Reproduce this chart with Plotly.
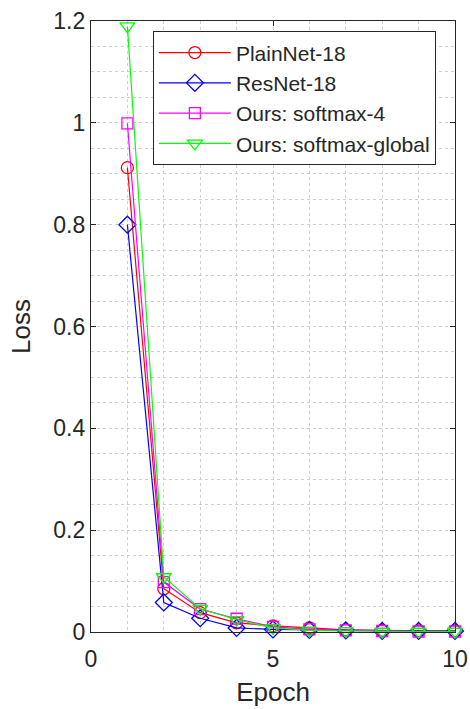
import plotly.graph_objects as go

# Training loss per epoch for each network
epochs = [1, 2, 3, 4, 5, 6, 7, 8, 9, 10]
plainnet_18 = [0.912, 0.085, 0.038, 0.018, 0.012, 0.008, 0.004, 0.003, 0.002, 0.002]
resnet_18 = [0.800, 0.058, 0.027, 0.008, 0.005, 0.004, 0.003, 0.002, 0.002, 0.002]
softmax_4 = [0.999, 0.098, 0.045, 0.026, 0.010, 0.005, 0.003, 0.002, 0.001, 0.001]
softmax_global = [1.190, 0.108, 0.046, 0.024, 0.008, 0.003, 0.002, 0.001, 0.001, 0.001]

series = [
    ("PlainNet-18", plainnet_18, "#ff0000", "circle-open", 12),
    ("ResNet-18", resnet_18, "#0000ff", "diamond-open", 13),
    ("Ours: softmax-4", softmax_4, "#ff00ff", "square-open", 11),
    ("Ours: softmax-global", softmax_global, "#00ff00", "triangle-down-open", 13),
]

FONT = "Liberation Sans, Arial, Helvetica, sans-serif"
INK = "#262626"
GRID = "#cfcfcf"

fig = go.Figure()
for name, values, color, symbol, size in series:
    fig.add_trace(go.Scatter(
        x=epochs, y=values, name=name, mode="lines+markers",
        line=dict(color=color, width=1.2),
        marker=dict(symbol=symbol, size=size, color=color,
                    line=dict(color=color, width=1.3)),
        cliponaxis=False,
    ))

axis_common = dict(
    showline=True, linecolor=INK, linewidth=1.3, mirror="ticks",
    ticks="inside", ticklen=5, tickcolor=INK,
    tickfont=dict(family=FONT, size=23, color=INK),
    showgrid=True, gridcolor=GRID, griddash="dot", gridwidth=1,
    zeroline=False, automargin=False,
)

fig.update_xaxes(
    range=[0, 10], tick0=0, dtick=5, ticklabelstandoff=6,
    minor=dict(dtick=1, showgrid=True, gridcolor=GRID, griddash="dot", ticks=""),
    title=dict(text="Epoch", font=dict(family=FONT, size=26, color=INK), standoff=12),
    **axis_common,
)
fig.update_yaxes(
    range=[0, 1.2], tick0=0, dtick=0.2,
    minor=dict(dtick=0.05, showgrid=True, gridcolor=GRID, griddash="dot", ticks=""),
    title=dict(text="Loss", font=dict(family=FONT, size=26, color=INK), standoff=15),
    **axis_common,
)

fig.update_layout(
    width=470, height=709,
    margin=dict(l=91, r=15, t=21, b=77),
    paper_bgcolor="white", plot_bgcolor="white",
    font=dict(family=FONT, color=INK),
    legend=dict(
        x=0.17, y=0.983, xanchor="left", yanchor="top",
        bgcolor="white", bordercolor=INK, borderwidth=1,
        font=dict(family=FONT, size=21, color=INK),
        itemwidth=72,
    ),
    showlegend=True,
)

fig.write_html("out.html")
